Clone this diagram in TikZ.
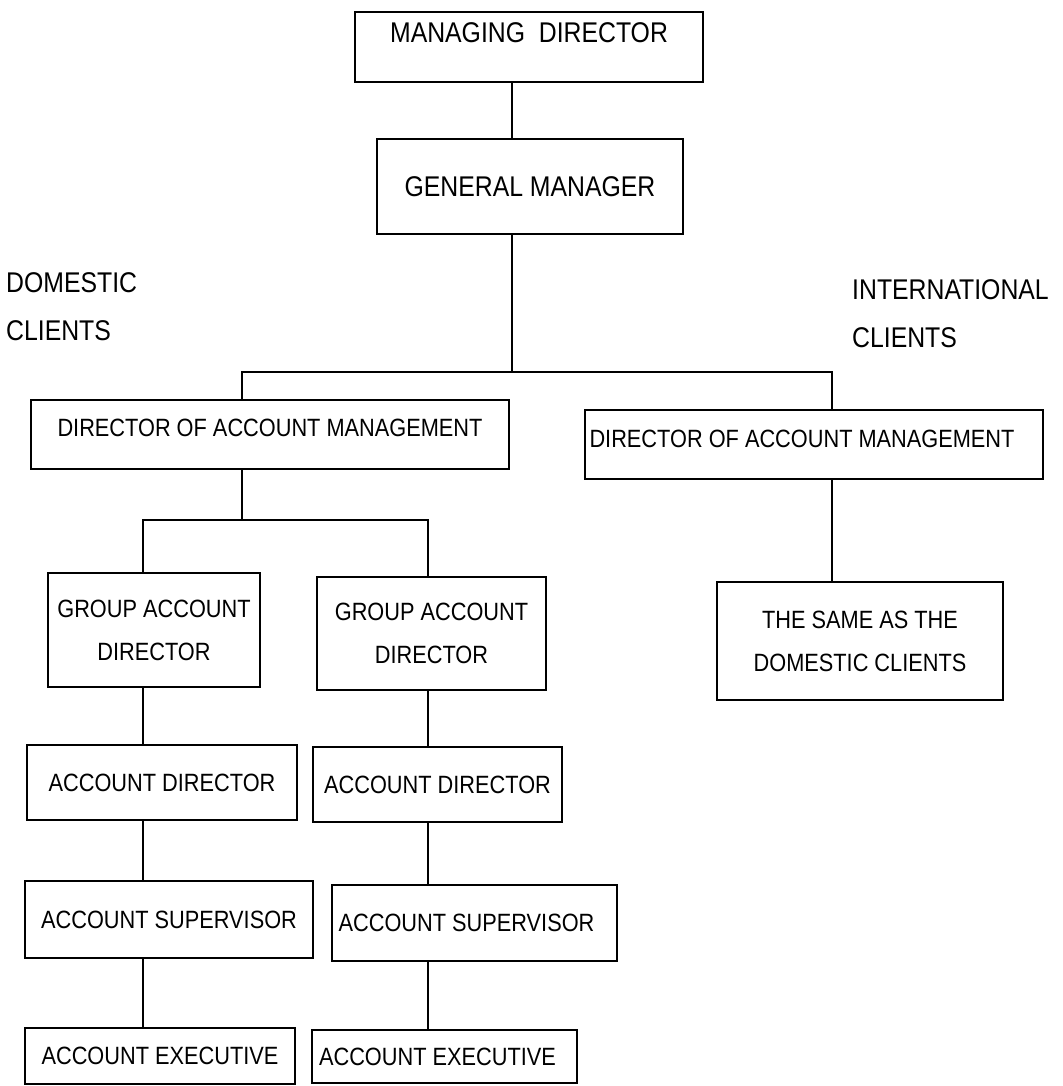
\documentclass[tikz,border=0pt]{standalone}
\usepackage{fontspec}
\setmainfont{Liberation Sans}[FakeStretch=0.87]
\tikzset{
  orgbox/.style={draw, line width=2pt, inner sep=0pt, align=center, font=\fontsize{25}{43}\selectfont},
  topbox/.style={orgbox, font=\fontsize{28.5}{48}\selectfont},
  link/.style={line width=2pt},
  side/.style={inner sep=0pt, align=left, anchor=west, font=\fontsize{28.5}{48}\selectfont}
}
\begin{document}
\begin{tikzpicture}[x=1pt, y=-1pt]
\useasboundingbox (0,0) rectangle (1062,1086);
\coordinate (trunk) at (512,372);
\coordinate (split) at (242,520);
\coordinate (colA) at (143,0);
\coordinate (colB) at (428,0);
\coordinate (colC) at (832,0);

\node[topbox, minimum width=348pt, minimum height=70pt, text depth=28pt] (md) at (529,47) {MANAGING~~DIRECTOR};
\node[topbox, minimum width=306pt, minimum height=95pt] (gm) at (530,186.5) {GENERAL MANAGER};
\node[side] (dom) at (6,307) {DOMESTIC\\CLIENTS};
\node[side] (intl) at (852,314) {INTERNATIONAL\\CLIENTS};

\node[orgbox, minimum width=478pt, minimum height=69pt, text depth=14pt] (ldam) at (270,434.5) {DIRECTOR OF ACCOUNT MANAGEMENT};
\node[orgbox, minimum width=458pt, minimum height=69pt, text depth=12pt] (rdam) at (814,444.5) {DIRECTOR OF ACCOUNT MANAGEMENT\hspace*{24pt}};

\node[orgbox, minimum width=212pt, minimum height=114pt] (gad1) at (154,630) {GROUP ACCOUNT\\DIRECTOR};
\node[orgbox, minimum width=229pt, minimum height=113pt] (gad2) at (431.5,633.5) {GROUP ACCOUNT\\DIRECTOR};
\node[orgbox, minimum width=286pt, minimum height=118pt] (same) at (860,641) {THE SAME AS THE\\DOMESTIC CLIENTS};

\node[orgbox, minimum width=270pt, minimum height=75pt] (ad1) at (162,782.5) {ACCOUNT DIRECTOR};
\node[orgbox, minimum width=249pt, minimum height=75pt] (ad2) at (437.5,784.5) {ACCOUNT DIRECTOR};
\node[orgbox, minimum width=288pt, minimum height=77pt] (as1) at (169,919.5) {ACCOUNT SUPERVISOR};
\node[orgbox, minimum width=285pt, minimum height=76pt] (as2) at (474.5,923) {ACCOUNT SUPERVISOR\hspace*{16pt}};
\node[orgbox, minimum width=270pt, minimum height=56pt] (ae1) at (160,1056) {ACCOUNT EXECUTIVE};
\node[orgbox, minimum width=265pt, minimum height=53pt] (ae2) at (444.5,1056.5) {ACCOUNT EXECUTIVE\hspace*{14pt}};

\draw[link] (md.south -| trunk) -- (gm.north -| trunk);
\draw[link] (gm.south -| trunk) -- (trunk);
\draw[link] (ldam.north -| split) |- (trunk) -| (rdam.north -| colC);
\draw[link] (ldam.south -| split) -- (split);
\draw[link] (gad1.north -| colA) |- (split) -| (gad2.north -| colB);
\draw[link] (gad1.south -| colA) -- (ad1.north -| colA);
\draw[link] (ad1.south -| colA) -- (as1.north -| colA);
\draw[link] (as1.south -| colA) -- (ae1.north -| colA);
\draw[link] (gad2.south -| colB) -- (ad2.north -| colB);
\draw[link] (ad2.south -| colB) -- (as2.north -| colB);
\draw[link] (as2.south -| colB) -- (ae2.north -| colB);
\draw[link] (rdam.south -| colC) -- (same.north -| colC);
\end{tikzpicture}
\end{document}
